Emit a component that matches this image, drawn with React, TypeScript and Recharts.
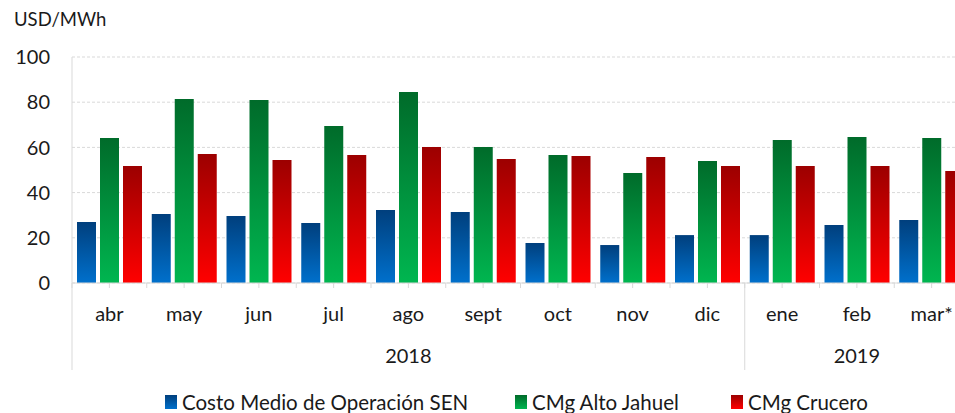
import React from 'react';
import { BarChart, Bar, XAxis, YAxis, CartesianGrid } from 'recharts';

const months = ['abr', 'may', 'jun', 'jul', 'ago', 'sept', 'oct', 'nov', 'dic', 'ene', 'feb', 'mar*'];
const costoSEN = [27.0, 30.5, 29.6, 26.5, 32.3, 31.4, 17.7, 16.8, 21.2, 21.2, 25.7, 27.9];
const altoJahuel = [64.2, 81.4, 81.0, 69.5, 84.5, 60.2, 56.6, 48.7, 54.0, 63.3, 64.6, 64.2];
const crucero = [51.8, 57.1, 54.4, 56.6, 60.2, 54.9, 56.2, 55.8, 51.8, 51.8, 51.8, 49.6];
// year groups: label, first month index, number of months
const years = [
  { label: '2018', start: 0, count: 9 },
  { label: '2019', start: 9, count: 3 },
];
const yTicks = [0, 20, 40, 60, 80, 100];

const data = months.map((m, i) => ({
  month: m,
  sen: costoSEN[i],
  jahuel: altoJahuel[i],
  crucero: crucero[i],
}));

const FONT = 'Lato, "Open Sans", sans-serif';
const CHART_W = 969;
const CHART_H = 413;
const Y_W = 72;
const band = (CHART_W - Y_W) / months.length;
const axisColor = '#d9d9d9';

const MonthTick = (props: any) => {
  const { x, y, payload, index } = props;
  const left = x - band / 2;
  const yearStart = years.find((yr) => yr.start === index);
  const yearLabel = years.find((yr) => yr.start + Math.floor(yr.count / 2) === index);
  return (
    <g>
      <line x1={x} x2={x} y1={y} y2={y + 5} stroke={axisColor} />
      <line x1={left} x2={left} y1={y} y2={y + 5} stroke={axisColor} />
      {yearStart && <line x1={left} x2={left} y1={y} y2={y + 87} stroke={axisColor} />}
      <text x={x} y={y + 30} textAnchor="middle" dominantBaseline="central" fontSize={20} fill="#1a1a1a" fontFamily={FONT}>
        {payload.value}
      </text>
      {yearLabel && (
        <text
          x={x + (yearLabel.start + yearLabel.count / 2 - index - 0.5) * band}
          y={y + 72}
          textAnchor="middle"
          dominantBaseline="central"
          fontSize={20}
          fill="#1a1a1a"
          fontFamily={FONT}
        >
          {yearLabel.label}
        </text>
      )}
    </g>
  );
};

const legendItems = [
  { name: 'Costo Medio de Operación SEN', grad: 'gBlue', left: 165 },
  { name: 'CMg Alto Jahuel', grad: 'gGreen', left: 515 },
  { name: 'CMg Crucero', grad: 'gRed', left: 731 },
];
const gradColors: Record<string, [string, string]> = {
  gBlue: ['#003f7d', '#0070cc'],
  gGreen: ['#006b2a', '#00b650'],
  gRed: ['#9c0000', '#ff0000'],
};

const App = () => {
  return (
    <div style={{ position: 'absolute', left: 0, top: 0, width: 955, height: 413, overflow: 'hidden', background: '#fff', fontFamily: FONT }}>
      <div style={{ position: 'absolute', left: 14, top: 8, fontSize: 18.5, color: '#1a1a1a' }}>USD/MWh</div>
      <BarChart
        width={CHART_W}
        height={CHART_H}
        data={data}
        margin={{ top: 57, right: 0, left: 0, bottom: 40 }}
        barCategoryGap={5}
        barGap={4}
      >
        <defs>
          {Object.entries(gradColors).map(([id, [top, bottom]]) => (
            <linearGradient key={id} id={id} x1="0" y1="0" x2="0" y2="1">
              <stop offset="0%" stopColor={top} />
              <stop offset="100%" stopColor={bottom} />
            </linearGradient>
          ))}
        </defs>
        <CartesianGrid vertical={false} stroke={axisColor} strokeDasharray="3 2" />
        <XAxis
          dataKey="month"
          height={90}
          interval={0}
          tickLine={false}
          tickSize={0}
          tickMargin={0}
          stroke={axisColor}
          tick={<MonthTick />}
        />
        <YAxis
          width={Y_W}
          domain={[0, 100]}
          ticks={yTicks}
          tickLine={false}
          tickSize={0}
          tickMargin={22}
          stroke={axisColor}
          tick={{ fontSize: 20, fill: '#1a1a1a', fontFamily: FONT }}
        />
        <Bar dataKey="sen" fill="url(#gBlue)" isAnimationActive={false} />
        <Bar dataKey="jahuel" fill="url(#gGreen)" isAnimationActive={false} />
        <Bar dataKey="crucero" fill="url(#gRed)" isAnimationActive={false} />
      </BarChart>
      {legendItems.map((it) => (
        <div
          key={it.name}
          style={{
            position: 'absolute',
            left: it.left,
            top: 390,
            display: 'flex',
            alignItems: 'center',
            gap: 5,
            fontSize: 20.5,
            color: '#1a1a1a',
            whiteSpace: 'nowrap',
          }}
        >
          <span
            style={{
              display: 'inline-block',
              width: 12,
              height: 14,
              background: `linear-gradient(${gradColors[it.grad][0]}, ${gradColors[it.grad][1]})`,
            }}
          />
          <span>{it.name}</span>
        </div>
      ))}
    </div>
  );
};

export default App;
